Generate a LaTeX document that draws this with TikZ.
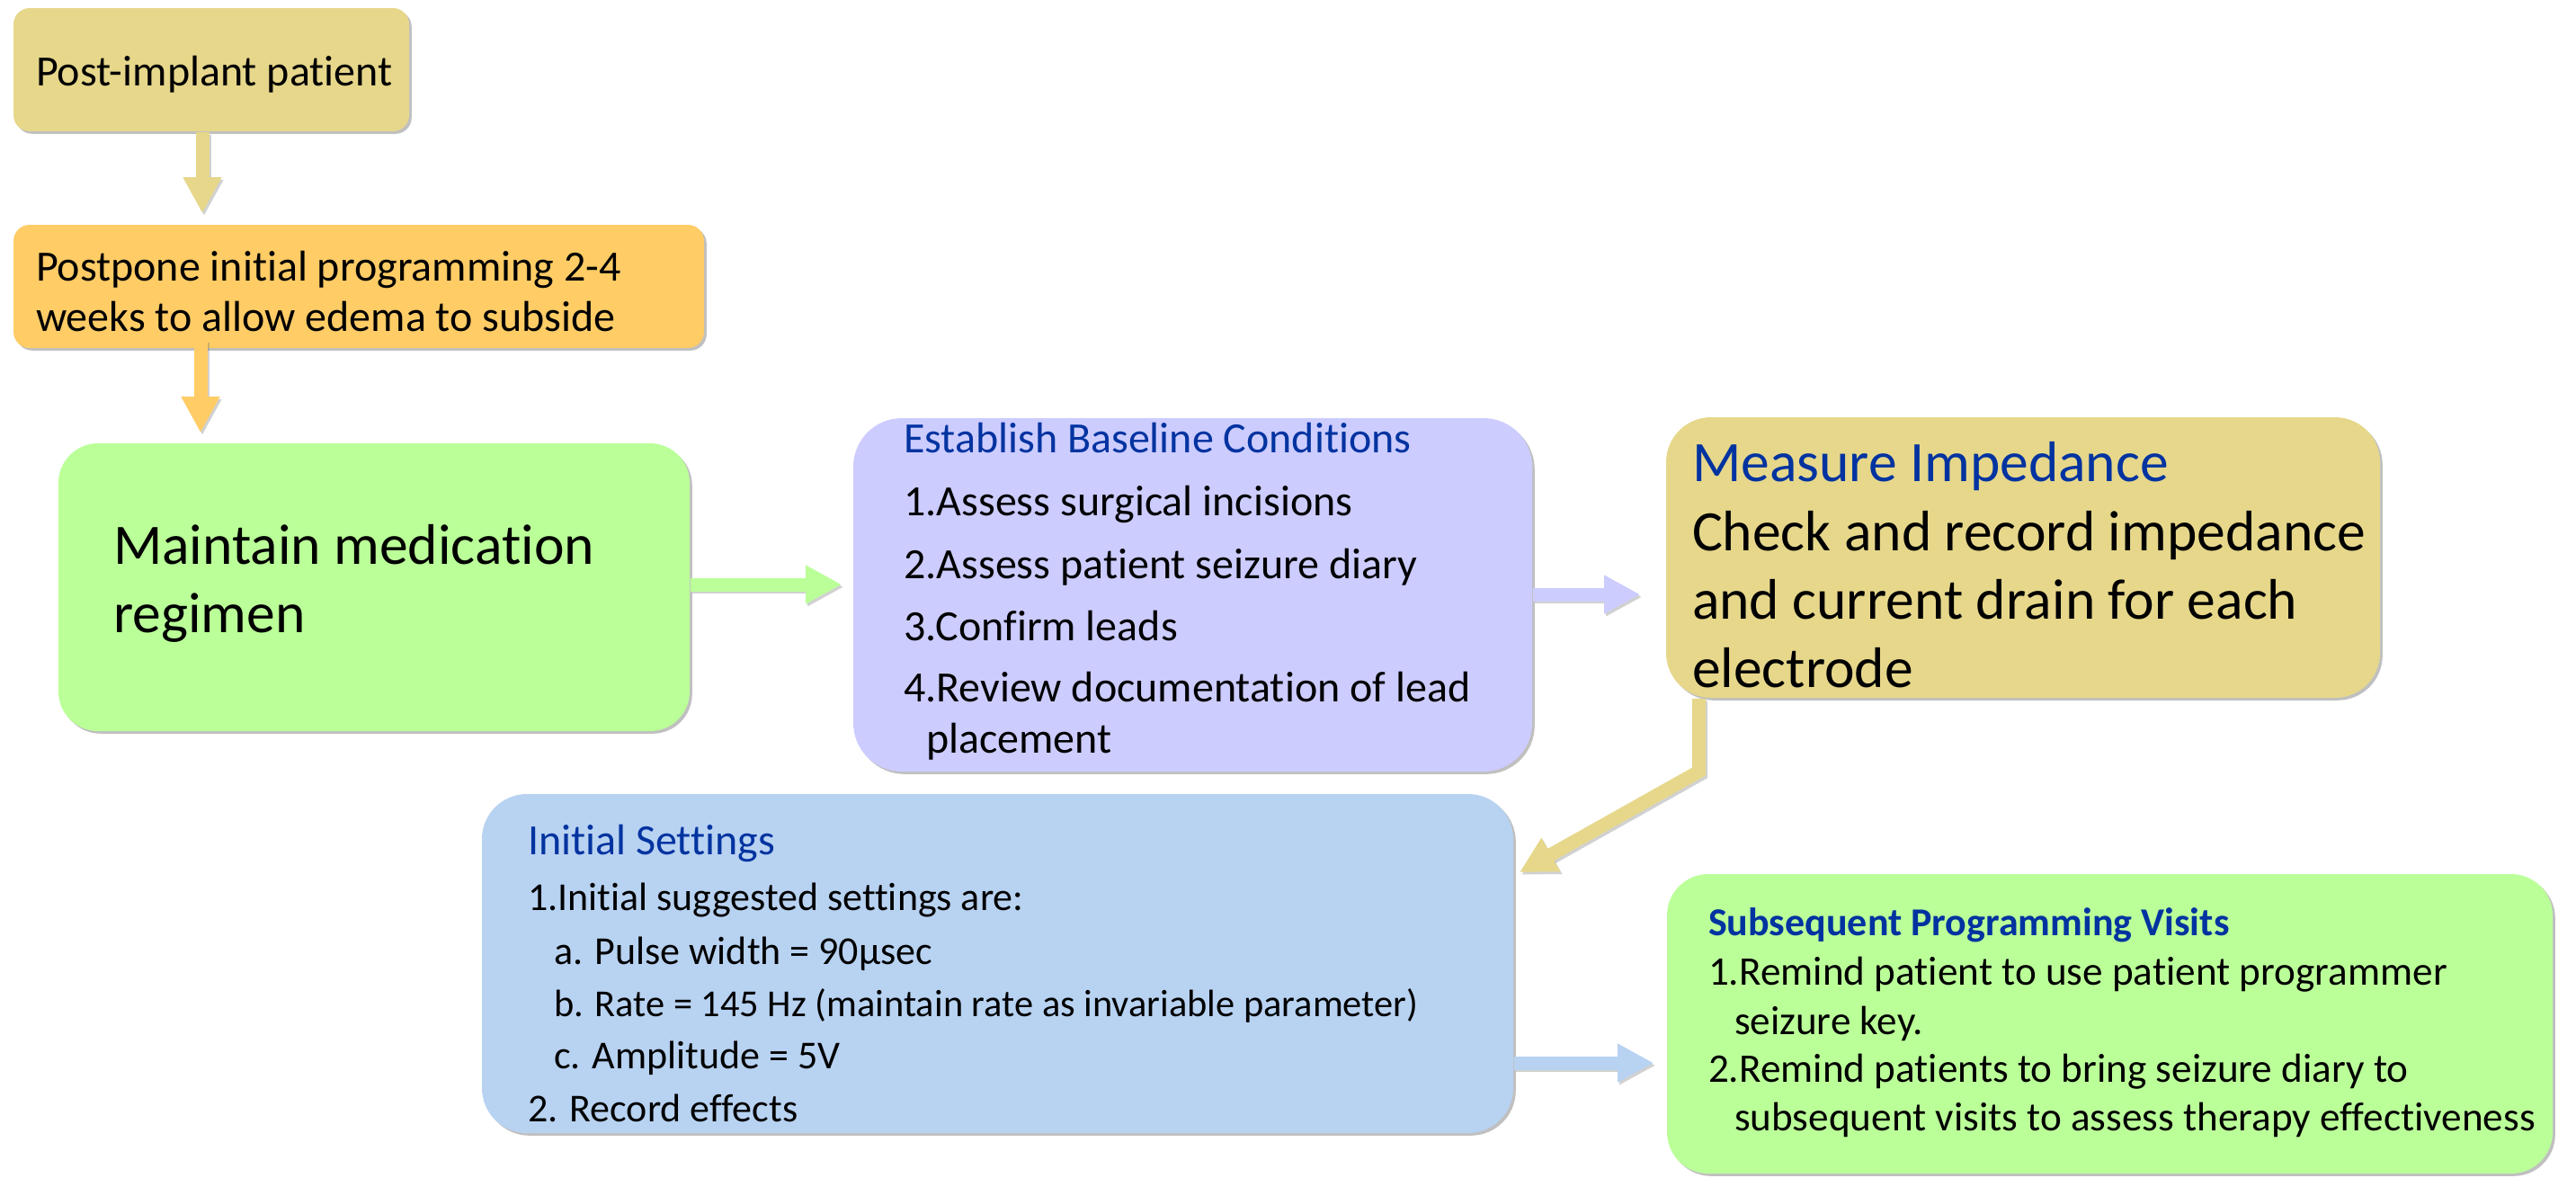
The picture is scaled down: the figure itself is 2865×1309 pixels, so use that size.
\documentclass[tikz,border=0pt]{standalone}
\usepackage{fontspec}
\setmainfont{Carlito}[Ligatures=NoCommon]
\usetikzlibrary{arrows.meta,shadows}

\definecolor{khaki}{HTML}{E6D78B}
\definecolor{apricot}{HTML}{FFCC66}
\definecolor{mint}{HTML}{BBFF99}
\definecolor{lavender}{HTML}{CCCCFF}
\definecolor{skyblue}{HTML}{B8D2F1}
\definecolor{titleblue}{HTML}{0033A0}

\tikzset{
  box/.style={rectangle, inner sep=0pt,
    drop shadow={shadow xshift=0.7pt, shadow yshift=-0.7pt, opacity=0.45, fill=black!55}},
  txt/.style={anchor=base west, inner sep=0pt, outer sep=0pt},
  bodymid/.style={font=\fontsize{12}{14}\selectfont},
  bodysmall/.style={font=\fontsize{11}{13}\selectfont},
  bodylarge/.style={font=\fontsize{15.9}{19}\selectfont},
  title/.style={text=titleblue},
  flow/.style={line width=3.75pt, -{Triangle[width=10pt,length=10pt]}},
  flowshade/.style={flow, draw=black!60, opacity=0.3,
    transform canvas={shift={(0.5pt,-0.7pt)}}},
}

\begin{document}
\begin{tikzpicture}[x=0.25pt, y=-0.25pt]
\useasboundingbox (0,0) rectangle (2865,1309);

% ---- boxes ----
\node[box, fill=khaki, rounded corners=4.5pt, minimum width=110pt, minimum height=34.25pt]
  (b1) at (235,77.5) {};
\node[box, fill=apricot, rounded corners=4.5pt, minimum width=192pt, minimum height=34.25pt]
  (b2) at (399,318.5) {};
\node[box, fill=mint, rounded corners=11pt, minimum width=175.5pt, minimum height=80pt]
  (b3) at (416,653) {};
\node[box, fill=lavender, rounded corners=13.5pt, minimum width=188.75pt, minimum height=98.25pt]
  (b4) at (1326.5,661.5) {};
\node[box, fill=khaki, rounded corners=12.5pt, minimum width=198.5pt, minimum height=78pt]
  (b5) at (2250,620) {};
\node[box, fill=skyblue, rounded corners=12.5pt, minimum width=286.75pt, minimum height=94.25pt]
  (b6) at (1109.5,1071.5) {};
\node[box, fill=mint, rounded corners=11.5pt, minimum width=246.25pt, minimum height=83.25pt]
  (b7) at (2346.5,1138.5) {};

% ---- texts ----
\node[txt, bodymid] (t1) at (40,95) {Post-implant patient};

\node[txt, bodymid] (t2a) at (40,312) {Postpone initial programming 2-4};
\node[txt, bodymid] (t2b) at (40,368) {weeks to allow edema to subside};

\node[txt, bodylarge] (t3a) at (126,627) {Maintain medication};
\node[txt, bodylarge] (t3b) at (126,703) {regimen};

\node[txt, bodymid, title] (t4) at (1005,503) {Establish Baseline Conditions};
\node[txt, bodymid] (t4a) at (1005,573) {1.Assess surgical incisions};
\node[txt, bodymid] (t4b) at (1005,643) {2.Assess patient seizure diary};
\node[txt, bodymid] (t4c) at (1005,712) {3.Confirm leads};
\node[txt, bodymid] (t4d) at (1005,780) {4.Review documentation of lead};
\node[txt, bodymid] (t4e) at (1030,837) {placement};

\node[txt, bodylarge, title] (t5) at (1882,535) {Measure Impedance};
\node[txt, bodylarge] (t5a) at (1882,612) {Check and record impedance};
\node[txt, bodylarge] (t5b) at (1882,688) {and current drain for each};
\node[txt, bodylarge] (t5c) at (1882,764) {electrode};

\node[txt, bodymid, title] (t6) at (587,950) {Initial Settings};
\node[txt, bodysmall] (t6a) at (587,1012) {1.Initial suggested settings are:};
\node[txt, bodysmall] (t6b) at (616,1072) {a. Pulse width = 90µsec};
\node[txt, font=\fontsize{10.6}{13}\selectfont] (t6c) at (616,1130) {b. Rate = 145 Hz (maintain rate as invariable parameter)};
\node[txt, bodysmall] (t6d) at (616,1188) {c. Amplitude = 5V};
\node[txt, bodysmall] (t6e) at (587,1247) {2. Record effects};

\node[txt, title, font=\fontsize{11}{13}\selectfont\bfseries] (t7) at (1900,1040) {Subsequent Programming Visits};
\node[txt, font=\fontsize{11.3}{13}\selectfont] (t7a) at (1900,1095) {1.Remind patient to use patient programmer};
\node[txt, font=\fontsize{11.3}{13}\selectfont] (t7b) at (1929,1150) {seizure key.};
\node[txt, font=\fontsize{11.3}{13}\selectfont] (t7c) at (1900,1203) {2.Remind patients to bring seizure diary to};
\node[txt, font=\fontsize{11.3}{13}\selectfont] (t7d) at (1929,1257) {subsequent visits to assess therapy effectiveness};

% ---- connectors ----
\coordinate (c1) at (225,0);
\coordinate (c2) at (223,0);
\coordinate (c3) at (0,650);
\coordinate (c4) at (0,661);
\coordinate (c5) at (1889.5,0);
\coordinate (k5) at (1889.5,858);
\coordinate (e5) at (1690,970);
\coordinate (c6) at (0,1182);

\draw[flowshade] (b1.south -| c1) -- ([yshift=3pt]b2.north -| c1);
\draw[flow, draw=khaki] (b1.south -| c1) -- ([yshift=3pt]b2.north -| c1);

\draw[flowshade] ([yshift=2.5pt]b2.south -| c2) -- ([yshift=2.75pt]b3.north -| c2);
\draw[flow, draw=apricot] ([yshift=2.5pt]b2.south -| c2) -- ([yshift=2.75pt]b3.north -| c2);

\draw[flowshade] (b3.east |- c3) -- ([xshift=-3pt]b4.west |- c3);
\draw[flow, draw=mint] (b3.east |- c3) -- ([xshift=-3pt]b4.west |- c3);

\draw[flowshade] (b4.east |- c4) -- ([xshift=-7pt]b5.west |- c4);
\draw[flow, draw=lavender] (b4.east |- c4) -- ([xshift=-7pt]b5.west |- c4);

\draw[flowshade] (b5.south -| c5) -- (k5) -- (e5);
\draw[flow, draw=khaki] (b5.south -| c5) -- (k5) -- (e5);

\draw[flowshade] (b6.east |- c6) -- ([xshift=-3.5pt]b7.west |- c6);
\draw[flow, draw=skyblue] (b6.east |- c6) -- ([xshift=-3.5pt]b7.west |- c6);

\end{tikzpicture}
\end{document}
